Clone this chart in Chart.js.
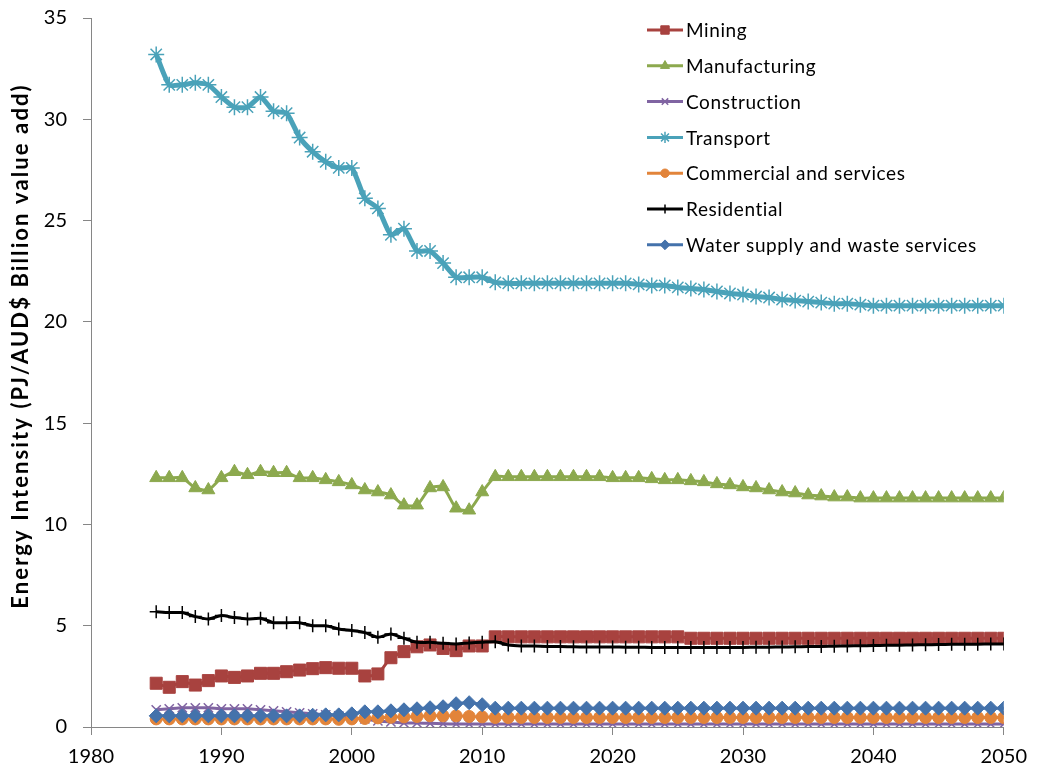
<!DOCTYPE html>
<html>
<head>
<meta charset="utf-8">
<script src="https://cdn.jsdelivr.net/npm/chart.js@4.4.1/dist/chart.umd.min.js"></script>
<style>
  html, body { margin: 0; padding: 0; background: #fff; }
  #wrap { width: 1037px; height: 773px; position: relative; }
</style>
</head>
<body>
<div id="wrap"><canvas id="chartIntensity"></canvas></div>
<script>
const years = [
  1985, 1986, 1987, 1988, 1989, 1990, 1991, 1992, 1993, 1994,
  1995, 1996, 1997, 1998, 1999, 2000, 2001, 2002, 2003, 2004,
  2005, 2006, 2007, 2008, 2009, 2010, 2011, 2012, 2013, 2014,
  2015, 2016, 2017, 2018, 2019, 2020, 2021, 2022, 2023, 2024,
  2025, 2026, 2027, 2028, 2029, 2030, 2031, 2032, 2033, 2034,
  2035, 2036, 2037, 2038, 2039, 2040, 2041, 2042, 2043, 2044,
  2045, 2046, 2047, 2048, 2049, 2050,
];

const mining = [
  2.16, 1.96, 2.24, 2.07, 2.29, 2.52, 2.45, 2.52, 2.65, 2.65,
  2.73, 2.81, 2.88, 2.93, 2.90, 2.90, 2.52, 2.62, 3.42, 3.72,
  3.96, 4.05, 3.88, 3.77, 4.00, 4.00, 4.45, 4.45, 4.45, 4.45,
  4.45, 4.45, 4.45, 4.45, 4.45, 4.45, 4.45, 4.45, 4.45, 4.45,
  4.45, 4.38, 4.38, 4.38, 4.38, 4.38, 4.38, 4.38, 4.38, 4.38,
  4.38, 4.38, 4.38, 4.38, 4.38, 4.38, 4.38, 4.38, 4.38, 4.38,
  4.38, 4.38, 4.38, 4.38, 4.38, 4.38,
];

const manufacturing = [
  12.30, 12.30, 12.30, 11.80, 11.70, 12.30, 12.60, 12.45, 12.60, 12.55,
  12.55, 12.30, 12.30, 12.20, 12.10, 11.95, 11.70, 11.60, 11.45, 10.95,
  10.95, 11.80, 11.85, 10.80, 10.70, 11.60, 12.35, 12.35, 12.35, 12.35,
  12.35, 12.35, 12.35, 12.35, 12.35, 12.30, 12.30, 12.30, 12.25, 12.20,
  12.20, 12.15, 12.10, 12.00, 11.95, 11.85, 11.80, 11.70, 11.60, 11.55,
  11.45, 11.40, 11.35, 11.35, 11.30, 11.30, 11.30, 11.30, 11.30, 11.30,
  11.30, 11.30, 11.30, 11.30, 11.30, 11.30,
];

const construction = [
  0.85, 0.90, 0.95, 0.95, 0.95, 0.90, 0.90, 0.90, 0.85, 0.80,
  0.75, 0.70, 0.65, 0.60, 0.55, 0.45, 0.40, 0.30, 0.25, 0.20,
  0.20, 0.18, 0.16, 0.15, 0.15, 0.15, 0.15, 0.15, 0.15, 0.15,
  0.15, 0.15, 0.15, 0.15, 0.15, 0.15, 0.15, 0.15, 0.15, 0.15,
  0.15, 0.15, 0.15, 0.15, 0.15, 0.15, 0.15, 0.15, 0.15, 0.15,
  0.15, 0.15, 0.15, 0.15, 0.15, 0.15, 0.15, 0.15, 0.15, 0.15,
  0.15, 0.15, 0.15, 0.15, 0.15, 0.15,
];

const transport = [
  33.20, 31.70, 31.70, 31.80, 31.70, 31.10, 30.60, 30.60, 31.10, 30.40,
  30.30, 29.10, 28.40, 27.90, 27.60, 27.60, 26.10, 25.60, 24.30, 24.60,
  23.50, 23.50, 22.90, 22.20, 22.20, 22.20, 21.95, 21.90, 21.90, 21.90,
  21.90, 21.90, 21.90, 21.90, 21.90, 21.90, 21.90, 21.85, 21.80, 21.80,
  21.70, 21.65, 21.60, 21.50, 21.40, 21.35, 21.25, 21.20, 21.10, 21.05,
  21.00, 20.95, 20.90, 20.90, 20.85, 20.80, 20.80, 20.80, 20.80, 20.80,
  20.80, 20.80, 20.80, 20.80, 20.80, 20.80,
];

const commercial = [
  0.40, 0.40, 0.40, 0.40, 0.40, 0.40, 0.40, 0.40, 0.40, 0.40,
  0.40, 0.40, 0.40, 0.40, 0.38, 0.40, 0.42, 0.45, 0.48, 0.50,
  0.52, 0.55, 0.55, 0.55, 0.52, 0.50, 0.47, 0.47, 0.47, 0.47,
  0.47, 0.47, 0.47, 0.47, 0.47, 0.47, 0.47, 0.47, 0.47, 0.47,
  0.47, 0.47, 0.47, 0.47, 0.47, 0.47, 0.47, 0.47, 0.47, 0.47,
  0.47, 0.47, 0.47, 0.47, 0.47, 0.47, 0.47, 0.47, 0.47, 0.47,
  0.47, 0.47, 0.47, 0.47, 0.47, 0.47,
];

const residential = [
  5.69, 5.65, 5.65, 5.45, 5.33, 5.50, 5.40, 5.33, 5.37, 5.15,
  5.15, 5.15, 5.00, 5.00, 4.84, 4.76, 4.66, 4.43, 4.59, 4.38,
  4.18, 4.18, 4.13, 4.10, 4.15, 4.18, 4.21, 4.05, 4.00, 4.00,
  3.98, 3.97, 3.96, 3.95, 3.95, 3.95, 3.94, 3.94, 3.93, 3.93,
  3.93, 3.93, 3.93, 3.93, 3.93, 3.93, 3.94, 3.94, 3.95, 3.96,
  3.97, 3.98, 3.99, 4.00, 4.01, 4.02, 4.03, 4.04, 4.05, 4.06,
  4.07, 4.08, 4.08, 4.09, 4.10, 4.10,
];

const water = [
  0.55, 0.55, 0.55, 0.55, 0.55, 0.55, 0.55, 0.55, 0.55, 0.55,
  0.55, 0.55, 0.58, 0.60, 0.60, 0.65, 0.75, 0.75, 0.80, 0.85,
  0.90, 0.95, 1.00, 1.15, 1.20, 1.10, 0.93, 0.93, 0.93, 0.93,
  0.93, 0.93, 0.93, 0.93, 0.93, 0.93, 0.93, 0.93, 0.93, 0.93,
  0.93, 0.93, 0.93, 0.93, 0.93, 0.93, 0.93, 0.93, 0.93, 0.93,
  0.93, 0.93, 0.93, 0.93, 0.93, 0.93, 0.93, 0.93, 0.93, 0.93,
  0.93, 0.93, 0.93, 0.93, 0.93, 0.93,
];

const yTicks = [0, 5, 10, 15, 20, 25, 30, 35];
const xTicks = [1980, 1990, 2000, 2010, 2020, 2030, 2040, 2050];
const yTitle = 'Energy Intensity (PJ/AUD$ Billion value add)';

const FONT = 'Lato, "Open Sans", sans-serif';

// one entry per series: label, values, colour, marker
const series = [
  { label: 'Mining',                          data: mining,        color: '#A8423F', style: 'rect',     r: 8.5, width: 3 },
  { label: 'Manufacturing',                   data: manufacturing, color: '#8CA94E', style: 'triangle', r: 7.5, width: 3 },
  { label: 'Construction',                    data: construction,  color: '#8064A2', style: 'crossRot', r: 6.5, width: 3 },
  { label: 'Transport',                       data: transport,     color: '#4AA2B9', style: 'star',     r: 8,   width: 5 },
  { label: 'Commercial and services',         data: commercial,    color: '#E2843A', style: 'circle',   r: 6,   width: 3 },
  { label: 'Residential',                     data: residential,   color: '#000000', style: 'cross',    r: 6.5, width: 3 },
  { label: 'Water supply and waste services', data: water,         color: '#4472AB', style: 'rectRot',  r: 7,   width: 3 },
];

const open = s => ['crossRot', 'star', 'cross'].includes(s);

/* ── legend + axis title drawn inside the plot ─────────── */
const extras = {
  id: 'extras',
  afterDraw(chart) {
    const ctx = chart.ctx;
    ctx.save();
    // rotated y title
    ctx.translate(21, 346);
    ctx.rotate(-Math.PI / 2);
    ctx.font = 'bold 22px ' + FONT;
    ctx.letterSpacing = '2.1px';
    ctx.fillStyle = '#000';
    ctx.textAlign = 'center';
    ctx.textBaseline = 'middle';
    ctx.fillText(yTitle, 0, 0);
    ctx.restore();

    ctx.save();
    ctx.font = '19px ' + FONT;
    ctx.letterSpacing = '0.6px';
    ctx.textBaseline = 'middle';
    series.forEach((s, i) => {
      const y = 30 + i * 35.8;
      ctx.strokeStyle = s.color;
      ctx.lineWidth = 3;
      ctx.beginPath();
      ctx.moveTo(647, y);
      ctx.lineTo(683, y);
      ctx.stroke();
      ctx.fillStyle = s.color;
      ctx.lineWidth = open(s.style) ? 1.5 : 1;
      Chart.helpers.drawPoint(ctx, { pointStyle: s.style, radius: s.r * 0.7, borderWidth: ctx.lineWidth }, 665, y);
      ctx.fillStyle = '#000';
      ctx.fillText(s.label, 686, y + 1);
    });
    ctx.restore();
  },
};

new Chart(document.getElementById('chartIntensity'), {
  type: 'line',
  data: {
    labels: years,
    datasets: series.map((s, i) => ({
      label: s.label,
      data: s.data,
      borderColor: s.color,
      backgroundColor: s.color,
      borderWidth: s.width,
      pointStyle: s.style,
      pointRadius: s.r,
      pointBorderWidth: open(s.style) ? 1.5 : 1,
      pointBorderColor: s.color,
      pointBackgroundColor: s.color,
      tension: 0.2,
      order: series.length - i,
    })),
  },
  options: {
    responsive: true,
    maintainAspectRatio: false,
    animation: false,
    layout: { padding: { top: 18, right: 28, left: 0, bottom: 0 } },
    plugins: {
      legend: { display: false },
      tooltip: { enabled: false },
    },
    scales: {
      x: {
        type: 'linear',
        min: 1980,
        max: 2050,
        afterBuildTicks: sc => { sc.ticks = xTicks.map(v => ({ value: v })); },
        afterFit: sc => { sc.height = 46; },
        border: { color: '#868686', width: 1 },
        grid: { drawOnChartArea: false, color: '#868686', tickLength: 8 },
        ticks: {
          color: '#000',
          font: { family: FONT, size: 20 },
          padding: 10,
          maxRotation: 0,
          callback: v => String(v),
        },
      },
      y: {
        min: 0,
        max: 35,
        afterBuildTicks: sc => { sc.ticks = yTicks.map(v => ({ value: v })); },
        afterFit: sc => { sc.width = 91; sc.paddingTop = 0; sc.paddingBottom = 0; },
        border: { color: '#868686', width: 1 },
        grid: { drawOnChartArea: false, color: '#868686', tickLength: 8 },
        ticks: {
          color: '#000',
          font: { family: FONT, size: 20 },
          padding: 16,
        },
      },
    },
  },
  plugins: [extras],
});
</script>
</body>
</html>
